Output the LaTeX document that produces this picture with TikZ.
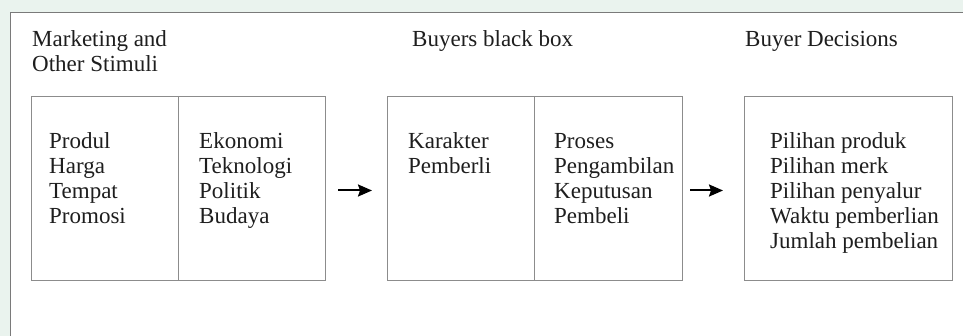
\documentclass[tikz,border=0pt]{standalone}
\usepackage{fontspec}
\setmainfont{Liberation Serif}
\usetikzlibrary{arrows.meta}
\definecolor{bgtint}{HTML}{EAF3EE}
\definecolor{framegray}{HTML}{7A7A7A}
\definecolor{boxgray}{HTML}{8C8C8C}
\definecolor{txt}{HTML}{1E1E1E}
\begin{document}
\begin{tikzpicture}[x=1pt,y=-1pt,
  lbl/.style={anchor=base west, inner sep=0pt, align=left,
    font=\fontsize{23}{25}\selectfont, text=txt},
  boxline/.style={draw=boxgray, line width=1pt},
  panel/.style={boxline, anchor=north west, inner sep=0pt, minimum height=184pt},
  flow/.style={-{Stealth[length=14pt,width=12pt,inset=2pt]}, line width=2pt, draw=black}]
\useasboundingbox (0,0) rectangle (963,336);
\fill[bgtint] (0,0) rectangle (963,336);
\fill[white] (10,13) rectangle (963,336);
\draw[framegray, line width=1pt] (963,13) -- (10,13) -- (10,336);
% panels
\node[panel, minimum width=294pt] (b1) at (31,96) {};
\draw[boxline] (178,96) -- (178,280);
\node[panel, minimum width=295pt] (b2) at (387,96) {};
\draw[boxline] (534,96) -- (534,280);
\node[panel, minimum width=208pt] (b3) at (744,96) {};
% arrows
\draw[flow, shorten <=12pt, shorten >=15pt] ([yshift=-2pt]b1.east) -- ([yshift=-2pt]b2.west);
\draw[flow, shorten <=7pt, shorten >=21pt] ([yshift=-2pt]b2.east) -- ([yshift=-2pt]b3.west);
% headings (anchor at baseline of last line; lines are 25pt apart)
\node[lbl] (h1) at (32,72) {Marketing and\\Other Stimuli};
\node[lbl] (h2) at (412,47) {Buyers black box};
\node[lbl] (h3) at (745,47) {Buyer Decisions};
% contents
\node[lbl] (c1) at (49,224) {Produl\\Harga\\Tempat\\Promosi};
\node[lbl] (c2) at (199,224) {Ekonomi\\Teknologi\\Politik\\Budaya};
\node[lbl] (c3) at (408,174) {Karakter\\Pemberli};
\node[lbl] (c4) at (554,224) {Proses\\Pengambilan\\Keputusan\\Pembeli};
\node[lbl] (c5) at (770,249) {Pilihan produk\\Pilihan merk\\Pilihan penyalur\\Waktu pemberlian\\Jumlah pembelian};
\end{tikzpicture}
\end{document}
